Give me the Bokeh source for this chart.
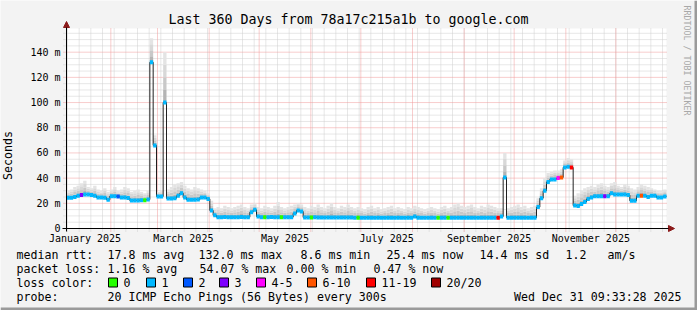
import datetime as dt
import math
from bokeh.plotting import figure
from bokeh.models import Range1d, FixedTicker, Arrow, NormalHead, CustomJSTickFormatter, ColumnDataSource
from bokeh.core.properties import value
from bokeh.embed import file_html
from bokeh.resources import INLINE

# ---------------- data ----------------
END = dt.datetime(2025, 12, 31, 9, 33, 28)
SPAN_DAYS = 360
STEP_DAYS = 2
START = END - dt.timedelta(days=SPAN_DAYS)
Y_TOP = 158.8

median_ms = [
    24.4, 24.4, 25.0, 26.0, 26.5, 27.0, 27.0, 26.5, 26.0, 24.6, 24.6, 24.5, 22.8, 25.7, 25.7, 25.5, 24.6, 24.6, 24.2, 22.2,
    22.2, 22.2, 22.5, 22.5, 23.0, 132.0, 66.0, 25.4, 25.4, 100.0, 23.8, 23.8, 24.0, 26.0, 28.0, 24.6, 22.8, 22.8, 22.8, 23.0,
    24.6, 24.6, 23.5, 14.3, 10.5, 9.0, 9.0, 9.1, 9.0, 8.9, 9.0, 9.0, 9.1, 9.0, 9.0, 13.0, 14.8, 9.5, 9.0, 9.0,
    9.0, 9.1, 9.0, 9.0, 9.0, 8.9, 9.0, 9.0, 12.0, 14.3, 13.5, 8.8, 8.8, 8.8, 8.9, 8.8, 8.8, 8.7, 8.8, 8.8,
    8.8, 8.8, 8.7, 8.8, 8.8, 8.8, 8.5, 8.5, 8.5, 8.6, 8.5, 8.5, 8.5, 8.5, 8.6, 8.5, 8.5, 8.5, 8.5, 8.5,
    8.5, 8.5, 8.6, 8.5, 9.5, 8.5, 8.5, 8.5, 8.5, 8.5, 8.5, 8.5, 8.5, 8.6, 8.5, 8.5, 8.5, 8.5, 8.5, 8.5,
    8.5, 8.5, 8.5, 8.5, 8.5, 8.5, 8.5, 8.5, 8.5, 8.5, 9.5, 40.5, 8.5, 8.5, 8.5, 8.5, 8.5, 8.5, 8.5, 8.5,
    8.5, 17.0, 24.0, 30.0, 37.0, 39.0, 39.0, 40.0, 40.5, 48.5, 49.0, 48.5, 18.2, 17.8, 19.5, 21.0, 23.5, 24.6, 25.6, 25.6,
    25.6, 25.6, 25.6, 28.0, 27.0, 27.0, 27.0, 27.0, 26.5, 22.0, 22.0, 26.0, 26.0, 26.0, 25.0, 26.0, 26.0, 24.6, 24.6, 25.5,
]

smoke_top_ms = [
    30, 31, 33, 34, 36, 38, 33, 32, 34, 31, 30, 32, 29, 31, 33, 30, 31, 33, 32, 29,
    30, 31, 29, 28, 30, 151, 74, 29, 30, 140, 31, 33, 35, 36, 37, 34, 32, 31, 33, 32,
    31, 30, 28, 22, 16, 17, 16, 18, 17, 16, 17, 18, 19, 17, 16, 19, 20, 17, 16, 18,
    17, 16, 18, 21, 17, 16, 17, 18, 19, 20, 19, 17, 16, 18, 17, 19, 17, 16, 18, 20,
    17, 16, 18, 17, 19, 17, 16, 17, 16, 15, 17, 18, 16, 17, 15, 16, 17, 18, 16, 17,
    16, 15, 17, 16, 18, 17, 16, 15, 16, 17, 16, 15, 17, 18, 16, 17, 19, 20, 18, 17,
    18, 19, 17, 16, 18, 17, 19, 18, 17, 16, 16, 60, 16, 17, 18, 19, 17, 18, 16, 17,
    18, 24, 32, 40, 44, 45, 46, 46, 47, 54, 56, 55, 26, 28, 30, 32, 33, 34, 33, 35,
    36, 34, 33, 36, 37, 34, 33, 35, 34, 32, 31, 33, 35, 34, 33, 32, 31, 30, 30, 31,
]

loss_class = [
    1, 1, 1, 1, 3, 1, 1, 1, 1, 1, 1, 1, 1, 1, 1, 2, 1, 1, 1, 1,
    1, 1, 1, 0, 1, 1, 1, 1, 1, 1, 1, 1, 1, 1, 1, 1, 1, 1, 1, 1,
    1, 1, 1, 1, 1, 1, 1, 1, 1, 1, 1, 1, 1, 1, 1, 1, 1, 1, 1, 0,
    1, 1, 1, 1, 0, 1, 1, 1, 1, 1, 1, 1, 1, 0, 1, 1, 1, 1, 1, 1,
    1, 1, 1, 1, 1, 1, 1, 0, 1, 1, 1, 1, 1, 1, 1, 1, 1, 1, 1, 1,
    1, 1, 1, 1, 1, 1, 1, 1, 1, 1, 1, 0, 1, 1, 0, 1, 1, 1, 1, 1,
    1, 1, 1, 1, 1, 1, 1, 1, 1, 6, 1, 1, 1, 1, 1, 1, 1, 1, 1, 1,
    1, 1, 1, 1, 1, 1, 1, 4, 5, 1, 1, 6, 1, 1, 1, 1, 1, 1, 1, 1,
    1, 3, 1, 1, 1, 1, 1, 1, 1, 1, 1, 1, 5, 1, 1, 1, 1, 1, 1, 1,
]

loss_colors = ["#26ff00", "#00b8ff", "#0059ff", "#7e00ff", "#ff00ff", "#ff5500", "#ff0000", "#a00000"]
loss_labels = ["0", "1", "2", "3", "4-5", "6-10", "11-19", "20/20"]

y_ticks = [0, 20, 40, 60, 80, 100, 120, 140]
y_minor_ticks = [5, 10, 15, 25, 30, 35, 45, 50, 55, 65, 70, 75, 85, 90, 95,
                 105, 110, 115, 125, 130, 135, 145, 150, 155]
labelled_months = [1, 3, 5, 7, 9, 11]
month_names = ["January 2025", "March 2025", "May 2025", "July 2025", "September 2025", "November 2025"]

title_text = "Last 360 Days from 78a17c215a1b to google.com"
watermark = "RRDTOOL / TOBI OETIKER"
rtt_stats = ["median rtt:", "17.8 ms avg", "132.0 ms max", "8.6 ms min", "25.4 ms now", "14.4 ms sd", "1.2", "am/s"]
loss_stats = ["packet loss:", "1.16 % avg", "54.07 % max", "0.00 % min", "0.47 % now"]
probe_text = ["probe:", "20 ICMP Echo Pings (56 Bytes) every 300s", "Wed Dec 31 09:33:28 2025"]

assert len(median_ms) == len(smoke_top_ms) == len(loss_class) == 180

# ---------------- geometry (canvas pixels) ----------------
FONT = "DejaVu Sans Mono"
BACK = "#f3f3f3"
W, H = 697, 310
PL, PR, PT, PB = 66, 666, 28, 228   # plot area in canvas pixels

def X(px):  # canvas px -> days
    return (px - PL) / (PR - PL) * SPAN_DAYS

def Y(py):  # canvas px -> ms
    return (PB - py) / (PB - PT) * Y_TOP

def days(d):
    return (d - START).total_seconds() / 86400.0

n = len(median_ms)
t0 = [i * STEP_DAYS for i in range(n)]
t1 = [(i + 1) * STEP_DAYS for i in range(n)]

month_starts = [days(dt.datetime(2025, m, 1)) for m in range(1, 13)]
month_starts = [d for d in month_starts if 0 <= d <= SPAN_DAYS]
label_pos = [(days(dt.datetime(2025, m, 1)) + days(dt.datetime(2025, m + 1, 1))) / 2 for m in labelled_months]
weeks = []
d = dt.datetime(2025, 1, 6)
while d < END:
    weeks.append(days(d))
    d += dt.timedelta(days=7)

# ---------------- figure: frame covers whole canvas, axes pinned at the data origin ----------------
p = figure(width=W, height=H, output_backend="svg", toolbar_location=None,
           x_range=Range1d(X(0), X(W)), y_range=Range1d(Y(H), Y(0)),
           min_border_left=0, min_border_right=0, min_border_top=0, min_border_bottom=0,
           background_fill_color=BACK, border_fill_color=BACK, outline_line_color=None)
p.title.visible = False
p.xgrid.visible = False
p.ygrid.visible = False

ya = p.yaxis[0]
ya.fixed_location = 0
ya.ticker = FixedTicker(ticks=y_ticks, minor_ticks=[])
ya.formatter = CustomJSTickFormatter(code="return tick == 0 ? '0' : tick + ' m';")
ya.axis_line_color = None
ya.major_tick_line_color = None
ya.minor_tick_line_color = None
ya.major_tick_out = 0
ya.major_tick_in = 0
ya.minor_tick_out = 0
ya.minor_tick_in = 0
ya.major_label_standoff = 6
ya.major_label_text_font = FONT
ya.major_label_text_font_size = "10px"
ya.major_label_text_color = "#000000"
ya.axis_label = "Seconds"
ya.axis_label_text_font = FONT
ya.axis_label_text_font_size = "11.6px"
ya.axis_label_text_font_style = "normal"
ya.axis_label_text_color = "#000000"
ya.axis_label_standoff = 12

xa = p.xaxis[0]
xa.fixed_location = 0
xa.ticker = FixedTicker(ticks=label_pos, minor_ticks=[])
xa.formatter = CustomJSTickFormatter(args=dict(pos=label_pos, names=month_names),
                                     code="const i = pos.indexOf(tick); return i >= 0 ? names[i] : '';")
xa.axis_line_color = None
xa.major_tick_line_color = None
xa.minor_tick_line_color = None
xa.major_tick_out = 0
xa.major_tick_in = 0
xa.minor_tick_out = 0
xa.minor_tick_in = 0
xa.major_label_standoff = 4
xa.major_label_text_font = FONT
xa.major_label_text_font_size = "10px"
xa.major_label_text_color = "#000000"

# plot canvas
p.quad(left=[0], right=[SPAN_DAYS], bottom=[0], top=[Y_TOP], fill_color="#ffffff", line_color=None, level="underlay")

# grid (minor grey, major red), slightly extending past the axes like rrdtool
GRID = "#cfcfcf"
MGRID = "#f19a9a"
p.segment(x0=weeks, x1=weeks, y0=[Y(231)] * len(weeks), y1=[Y_TOP] * len(weeks),
          line_color=GRID, line_dash="1 1", line_width=1)
p.segment(x0=[X(63)] * len(y_minor_ticks), x1=[SPAN_DAYS] * len(y_minor_ticks), y0=y_minor_ticks, y1=y_minor_ticks,
          line_color=GRID, line_dash="1 1", line_width=1)
p.segment(x0=month_starts, x1=month_starts, y0=[Y(231)] * len(month_starts), y1=[Y_TOP] * len(month_starts),
          line_color=MGRID, line_dash="1 1", line_width=1)
p.segment(x0=[X(63)] * len(y_ticks), x1=[SPAN_DAYS] * len(y_ticks), y0=y_ticks, y1=y_ticks,
          line_color=MGRID, line_dash="1 1", line_width=1)

# smoke (grey bands from median up to the highest ping)
smoke_colors = ["#b4b4b4", "#c8c8c8", "#d8d8d8", "#e4e4e4"]
for k, col in enumerate(smoke_colors):
    bot = [m + (tp - m) * k / 4 for m, tp in zip(median_ms, smoke_top_ms)]
    top = [m + (tp - m) * (k + 1) / 4 for m, tp in zip(median_ms, smoke_top_ms)]
    p.quad(left=t0, right=t1, bottom=bot, top=top, fill_color=col, line_color=None)

# median line (black step) and loss-coloured median band
p.step(x=t0 + [SPAN_DAYS], y=median_ms + [median_ms[-1]], mode="after", line_color="#202020", line_width=1)
band = ColumnDataSource(dict(x0=t0, x1=t1, y=median_ms, c=[loss_colors[k] for k in loss_class]))
p.segment(x0="x0", x1="x1", y0="y", y1="y", line_color="c", line_width=4, line_cap="butt", source=band)

# axes with arrow heads
p.add_layout(Arrow(x_start=X(62), y_start=0, x_end=X(674), y_end=0, line_color="#000000", line_width=1,
                   end=NormalHead(size=6, fill_color="#8b1a1a", line_color="#8b1a1a")))
p.add_layout(Arrow(x_start=0, y_start=Y(231), x_end=0, y_end=Y(21), line_color="#000000", line_width=1,
                   end=NormalHead(size=6, fill_color="#8b1a1a", line_color="#8b1a1a")))

# title and vertical watermark
p.text(x=[X(348)], y=[Y(19)], text=[title_text], text_font=value(FONT), text_font_size="13.3px",
       text_align="center", text_baseline="middle", text_color="#000000")
p.text(x=[X(686)], y=[Y(5)], text=[watermark], text_font=value(FONT), text_font_size="8.3px",
       text_align="left", text_baseline="middle", text_color="#a8a8a8", angle=-math.pi / 2)

# legend rows below the plot
row_y = [254, 268, 282, 296]
rtt_x = [16, 107, 198, 300, 386, 479, 565, 607]
loss_x = [16, 107, 199, 286, 373]
sq_x = [108, 146, 183, 219, 256, 307, 366, 431]

def txt(xs, y, texts, align="left"):
    p.text(x=[X(v) for v in xs], y=[Y(y)] * len(xs), text=texts, text_font=value(FONT), text_font_size="11.6px",
           text_align=align, text_baseline="middle", text_color="#000000")

txt(rtt_x, row_y[0], rtt_stats)
txt(loss_x, row_y[1], loss_stats)
txt([16], row_y[2], ["loss color:"])
p.quad(left=[X(v) for v in sq_x], right=[X(v + 9) for v in sq_x],
       top=[Y(row_y[2] - 4.5)] * len(sq_x), bottom=[Y(row_y[2] + 4.5)] * len(sq_x),
       fill_color=loss_colors, line_color="#000000", line_width=1)
txt([v + 15 for v in sq_x], row_y[2], loss_labels)
txt([16, 107], row_y[3], probe_text[:2])
txt([681], row_y[3], probe_text[2:], align="right")

# outer 3D border (dark right/bottom edges)
p.quad(left=[X(694)], right=[X(W)], bottom=[Y(H)], top=[Y(0)], fill_color="#9a9a9a", line_color=None)
p.quad(left=[X(0)], right=[X(W)], bottom=[Y(H)], top=[Y(307)], fill_color="#9a9a9a", line_color=None)

open("out.html", "w").write(file_html(p, INLINE))
